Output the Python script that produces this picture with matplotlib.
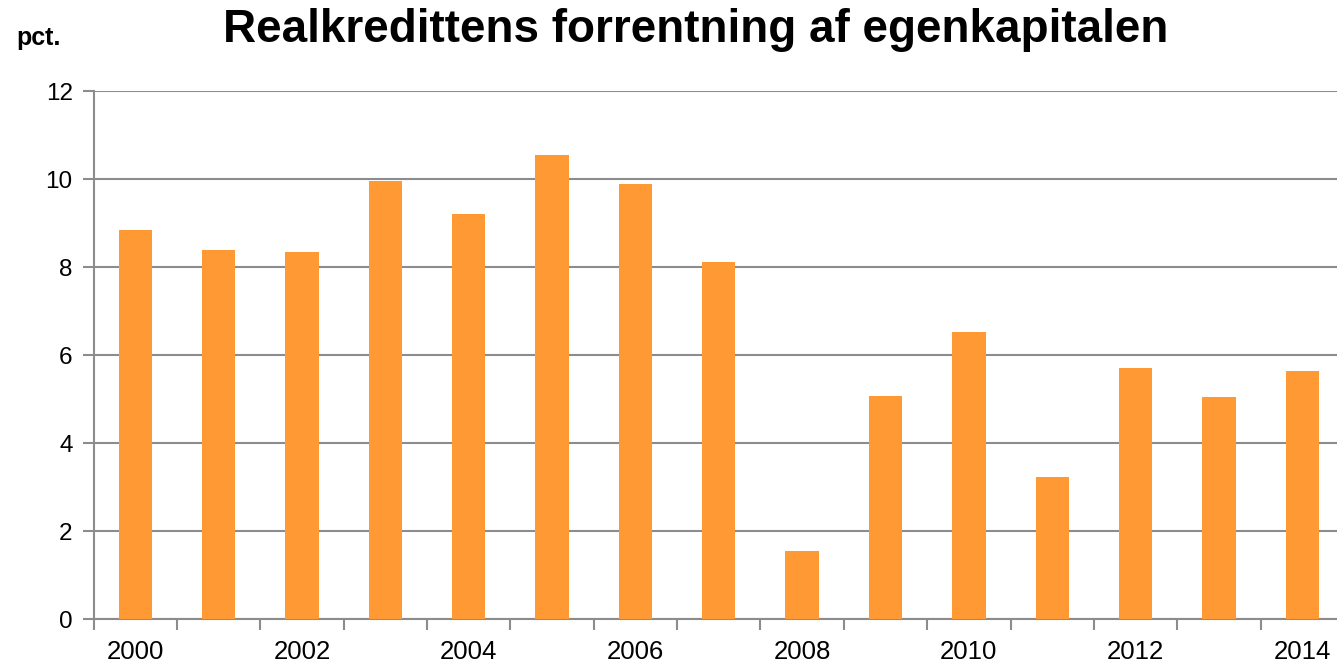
import matplotlib
matplotlib.use("Agg")
import matplotlib.pyplot as plt
import numpy as np

years = list(range(2000, 2015))
values = [8.84, 8.39, 8.34, 9.95, 9.2, 10.55, 9.89, 8.11, 1.55, 5.07, 6.52, 3.23, 5.70, 5.05, 5.64]
yticks = [0, 2, 4, 6, 8, 10, 12]

plt.rcParams["font.family"] = ["Liberation Sans", "DejaVu Sans"]

fig = plt.figure(figsize=(13.37, 6.62), dpi=100)
W, H = 1337, 662
ax = fig.add_axes([93.5 / W, 1 - 619 / H, (1344 - 93.5) / W, 528 / H])

x = np.arange(len(years))
ax.bar(x, values, width=0.4, color="#FF9933", zorder=3)

grid_color = "#8c8c8c"
ax.set_ylim(0, 12)
ax.set_yticks(yticks)
ax.set_yticklabels([str(t) for t in yticks], fontsize=17.5)
ax.yaxis.grid(True, color=grid_color, linewidth=1.5, zorder=0)

ax.set_xlim(-0.5, len(years) - 0.5)
ax.set_xticks(np.arange(len(years) + 1) - 0.5)
ax.set_xticklabels([])
ax.set_xticks(x[::2], minor=True)
ax.set_xticklabels([str(y) for y in years[::2]], minor=True, fontsize=18.5)
ax.tick_params(axis="x", which="major", direction="out", length=8, width=1.5, color=grid_color)
ax.tick_params(axis="x", which="minor", length=0, pad=15)
ax.tick_params(axis="y", direction="out", length=8, width=1.5, color=grid_color, pad=7)

for side in ["top", "right"]:
    ax.spines[side].set_visible(False)
for side in ["left", "bottom"]:
    ax.spines[side].set_color(grid_color)
    ax.spines[side].set_linewidth(1.5)

fig.text(696 / W, 1 - 42 / H, "Realkredittens forrentning af egenkapitalen",
         fontsize=33, fontweight="bold", ha="center", va="baseline")
fig.text(16 / W, 1 - 45 / H, "pct.", fontsize=18, fontweight="bold", ha="left", va="baseline")

fig.savefig("out.png", dpi=100)
